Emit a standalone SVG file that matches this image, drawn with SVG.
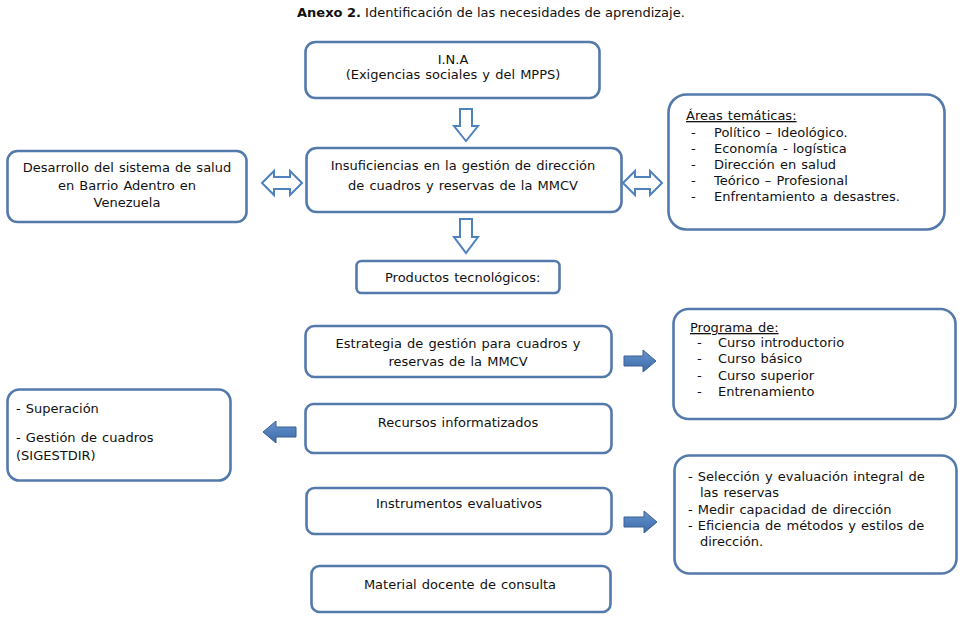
<svg xmlns="http://www.w3.org/2000/svg" width="970" height="618" viewBox="0 0 970 618">
<defs>
<style>
.box{fill:#fff;stroke:#5479ab;stroke-width:2.6}
text{font-family:"DejaVu Sans","Verdana",sans-serif;font-size:13px;fill:#111;word-spacing:1px}
.c{text-anchor:middle}
.ho{fill:#fff;stroke:#4f81bd;stroke-width:2}
.fi{fill:url(#g);stroke:#3a6195;stroke-width:1}
</style>
<linearGradient id="g" x1="0" y1="0" x2="0" y2="1">
<stop offset="0" stop-color="#6d95c9"/>
<stop offset="0.5" stop-color="#4f7fbc"/>
<stop offset="1" stop-color="#3e6aa3"/>
</linearGradient>
</defs>
<rect width="970" height="618" fill="#fff"/>
<text x="297" y="17" style="word-spacing:0"><tspan font-weight="bold">Anexo 2.</tspan> Identificación de las necesidades de aprendizaje.</text>

<g id="connectors">
<path class="ho" d="M460,109 H472 V126 H478 L466,141 L454,126 H460 Z"/>
<path class="ho" d="M460,219 H472 V237 H478 L466,253 L454,237 H460 Z"/>
<path class="ho" d="M262,183 L274,171 V177 H290 V171 L302,183 L290,195 V189 H274 V195 Z"/>
<path class="ho" d="M623,183 L635,171 V177 H650 V171 L662,183 L650,195 V189 H635 V195 Z"/>
<path class="fi" d="M624,356 H643 V350 L656,361 L643,372 V366 H624 Z"/>
<path class="fi" d="M296,427 H276 V421 L263,432 L276,443 V437 H296 Z"/>
<path class="fi" d="M624,517 H644 V511 L657,522 L644,533 V527 H624 Z"/>
</g>

<g id="ina">
<rect class="box" x="305.5" y="42" width="294" height="56" rx="10"/>
<text class="c" x="453" y="64">I.N.A</text>
<text class="c" x="453" y="79">(Exigencias sociales y del MPPS)</text>
</g>

<g id="insuficiencias">
<rect class="box" x="306.5" y="148" width="315" height="64" rx="10"/>
<text class="c" x="463" y="170">Insuficiencias en la gestión de dirección</text>
<text class="c" x="463" y="190">de cuadros y reservas de la MMCV</text>
</g>

<g id="desarrollo">
<rect class="box" x="7.5" y="151" width="239" height="71" rx="10"/>
<text class="c" x="127" y="172">Desarrollo del sistema de salud</text>
<text class="c" x="127" y="190">en Barrio Adentro en</text>
<text class="c" x="127" y="207">Venezuela</text>
</g>

<g id="areas">
<rect class="box" x="668.5" y="94.5" width="276" height="135" rx="18"/>
<text x="686" y="120" text-decoration="underline">Áreas temáticas:</text>
<text x="691" y="137">-</text><text x="714" y="137">Político – Ideológico.</text>
<text x="691" y="153">-</text><text x="714" y="153">Economía - logística</text>
<text x="691" y="169">-</text><text x="714" y="169">Dirección en salud</text>
<text x="691" y="185">-</text><text x="714" y="185">Teórico – Profesional</text>
<text x="691" y="201">-</text><text x="714" y="201">Enfrentamiento a desastres.</text>
</g>

<g id="productos">
<rect class="box" x="356.5" y="261" width="203" height="32" rx="5"/>
<text x="385" y="282">Productos tecnológicos:</text>
</g>

<g id="estrategia">
<rect class="box" x="305.5" y="326" width="306" height="51" rx="9"/>
<text class="c" x="458" y="348">Estrategia de gestión para cuadros y</text>
<text class="c" x="458" y="366">reservas de la MMCV</text>
</g>

<g id="programa">
<rect class="box" x="673.5" y="309" width="282" height="110" rx="15"/>
<text x="690" y="332" text-decoration="underline">Programa de:</text>
<text x="697" y="347">-</text><text x="718" y="347">Curso introductorio</text>
<text x="697" y="363">-</text><text x="718" y="363">Curso básico</text>
<text x="697" y="380">-</text><text x="718" y="380">Curso superior</text>
<text x="697" y="396">-</text><text x="718" y="396">Entrenamiento</text>
</g>

<g id="superacion">
<rect class="box" x="7.5" y="389.5" width="223" height="91" rx="12"/>
<text x="16" y="413">- Superación</text>
<text x="16" y="442">- Gestión de cuadros</text>
<text x="16" y="460">(SIGESTDIR)</text>
</g>

<g id="recursos">
<rect class="box" x="305.5" y="404" width="306" height="49" rx="8"/>
<text class="c" x="458" y="427">Recursos informatizados</text>
</g>

<g id="instrumentos">
<rect class="box" x="306.5" y="488" width="305" height="46" rx="8"/>
<text class="c" x="459" y="508">Instrumentos evaluativos</text>
</g>

<g id="seleccion">
<rect class="box" x="674.5" y="455.5" width="282" height="118" rx="15"/>
<text x="688" y="481">- Selección y evaluación integral de</text>
<text x="700" y="497">las reservas</text>
<text x="688" y="514">- Medir capacidad de dirección</text>
<text x="688" y="530">- Eficiencia de métodos y estilos de</text>
<text x="700" y="546">dirección.</text>
</g>

<g id="material">
<rect class="box" x="311.5" y="566" width="299" height="46" rx="8"/>
<text class="c" x="460" y="589">Material docente de consulta</text>
</g>
</svg>
